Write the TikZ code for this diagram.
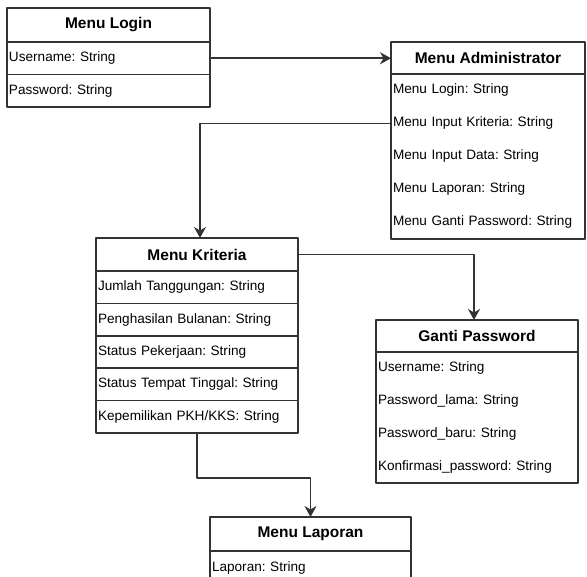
\documentclass[tikz,border=0pt]{standalone}
\usepackage{fontspec}
\setmainfont{Liberation Sans}
\usetikzlibrary{positioning,arrows.meta}
\frenchspacing

\begin{document}
\begin{tikzpicture}[line cap=round,line join=round,>={Stealth[length=11pt,width=12pt,inset=3.5pt]},x=1pt,y=-1pt,
		node distance=0pt,
		judul/.style={draw=black!80,line width=1.5pt,font=\bfseries\fontsize{15.5}{18}\selectfont,inner sep=0pt,outer sep=0pt},
		baris/.style={font=\fontsize{13.6}{16}\selectfont,align=left,inner xsep=2pt,inner ysep=0pt,outer sep=0pt,text height=10pt,text depth=3pt},
		garis/.style={baris,draw=black!80,line width=1.5pt},
		panah/.style={->,draw=black!80,line width=1.5pt}]
		\useasboundingbox (0,0) rectangle (587,577);
		\clip (0,0) rectangle (587,577);
		% Menu Login
		\node[judul,minimum width=203pt,minimum height=34pt,anchor=north west] (login) at (7,8) {Menu Login};
		\node[garis,text width=199pt,minimum height=32.5pt,below=of login] (login1) {Username: String};
		\node[garis,text width=199pt,minimum height=32.5pt,below=of login1] (login2) {Password: String};
		% Menu Administrator
		\node[judul,minimum width=194pt,minimum height=32pt,anchor=north west] (admin) at (391,42) {Menu Administrator};
		\node[baris,text width=190pt,minimum height=33pt,below=of admin] (admin1) {Menu Login: String};
		\node[baris,text width=190pt,minimum height=33pt,below=of admin1] (admin2) {Menu Input Kriteria: String};
		\node[baris,text width=190pt,minimum height=33pt,below=of admin2] (admin3) {Menu Input Data: String};
		\node[baris,text width=190pt,minimum height=33pt,below=of admin3] (admin4) {Menu Laporan: String};
		\node[baris,text width=190pt,minimum height=33pt,below=of admin4] (admin5) {Menu Ganti Password: String};
		\draw[draw=black!80,line width=1.5pt] (admin1.north west) rectangle (admin5.south east);
		% Menu Kriteria
		\node[judul,minimum width=202pt,minimum height=33pt,anchor=north west] (kriteria) at (96,238) {Menu Kriteria};
		\node[garis,text width=198pt,minimum height=32.4pt,below=of kriteria] (kriteria1) {Jumlah Tanggungan: String};
		\node[garis,text width=198pt,minimum height=32.4pt,below=of kriteria1] (kriteria2) {Penghasilan Bulanan: String};
		\node[garis,text width=198pt,minimum height=32.4pt,below=of kriteria2] (kriteria3) {Status Pekerjaan: String};
		\node[garis,text width=198pt,minimum height=32.4pt,below=of kriteria3] (kriteria4) {Status Tempat Tinggal: String};
		\node[garis,text width=198pt,minimum height=32.4pt,below=of kriteria4] (kriteria5) {Kepemilikan PKH/KKS: String};
		% Ganti Password
		\node[judul,minimum width=202pt,minimum height=32pt,anchor=north west] (ganti) at (376,320) {Ganti Password};
		\node[baris,text width=198pt,minimum height=32.75pt,below=of ganti] (ganti1) {Username: String};
		\node[baris,text width=198pt,minimum height=32.75pt,below=of ganti1] (ganti2) {Password\_lama: String};
		\node[baris,text width=198pt,minimum height=32.75pt,below=of ganti2] (ganti3) {Password\_baru: String};
		\node[baris,text width=198pt,minimum height=32.75pt,below=of ganti3] (ganti4) {Konfirmasi\_password: String};
		\draw[draw=black!80,line width=1.5pt] (ganti1.north west) rectangle (ganti4.south east);
		% Menu Laporan
		\node[judul,minimum width=201pt,minimum height=34pt,anchor=north west] (laporan) at (210,517) {Menu Laporan};
		\node[garis,text width=197pt,minimum height=33pt,below=of laporan] (laporan1) {Laporan: String};
		% panah
		\draw[panah] (login1.east) -- (login1.east -| admin.west);
		\draw[panah] (admin2.west) -| ([xshift=3pt]kriteria.north);
		\draw[panah] (kriteria.east) -| ([xshift=-3pt]ganti.north);
		\draw[panah] (kriteria5.south) -- ++(0,45) -| (laporan.north);
		\end{tikzpicture}
\end{document}
